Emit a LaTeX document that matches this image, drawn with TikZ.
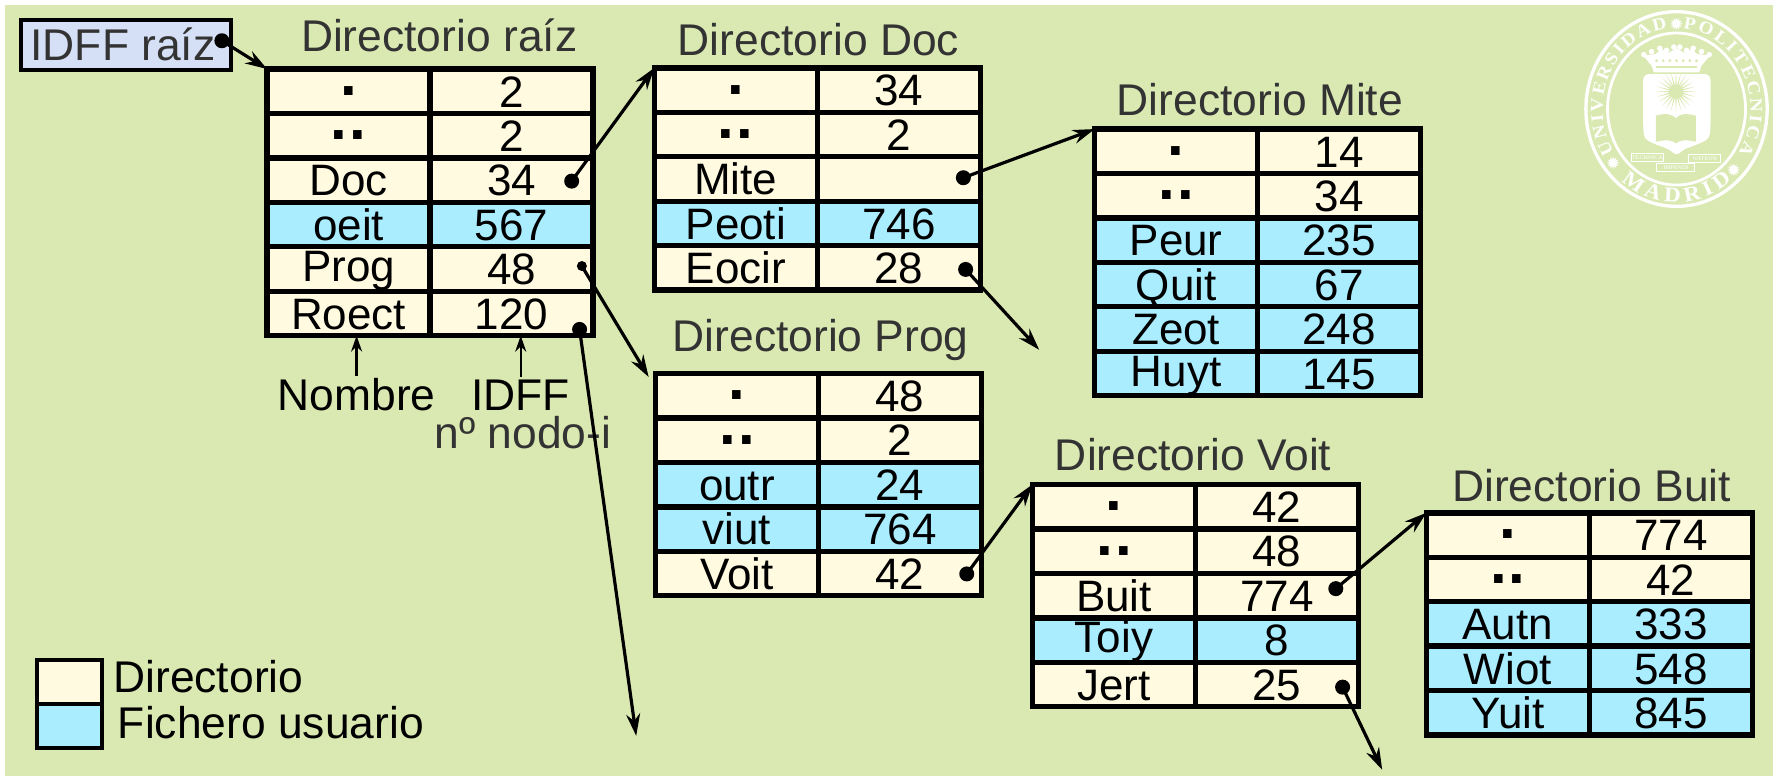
\documentclass[tikz,border=0pt]{standalone}
\usepackage{fontspec}
\usetikzlibrary{arrows.meta,decorations.text,calc}
\setmainfont{Liberation Sans}
\newfontfamily\sealfont[FakeStretch=1.1]{Liberation Serif}
\newfontfamily\starfont{DejaVu Sans}
\definecolor{bggreen}{HTML}{DAE9B2}
\definecolor{cream}{HTML}{FFFAE0}
\definecolor{fileblue}{HTML}{AAEDFF}
\definecolor{rootblue}{HTML}{D5DFF5}
\definecolor{titlegray}{HTML}{333333}
\tikzset{
  cell/.style={draw=black,line width=5.4pt,minimum width=163pt,minimum height=44.43pt,inner sep=0pt,outer sep=0pt,
    font=\fontsize{44}{44}\selectfont,text height=31.5pt,text depth=0pt,anchor=north west},
  dircell/.style={cell,fill=cream},
  filecell/.style={cell,fill=fileblue},
  dirtitle/.style={font=\fontsize{44.4}{44.4}\selectfont,text=titlegray,inner sep=0pt},
  lbl/.style={font=\fontsize{44.4}{44.4}\selectfont,inner sep=0pt},
  legbox/.style={draw=black,line width=4pt,minimum width=65pt,minimum height=44pt,inner sep=0pt},
  ptdot/.style={circle,fill=black,inner sep=0pt,minimum size=15pt},
  smalldot/.style={circle,fill=black,inner sep=0pt,minimum size=10pt},
  link/.style={line width=3.2pt,-{Stealth[length=22pt,width=14pt]}},
  thinlink/.style={line width=2.4pt,-{Stealth[length=16pt,width=11pt]}},
  sealtext/.style 2 args={decorate,decoration={text along path,text align=fit to path,
     text={|\sealfont\bfseries\fontsize{#1}{#1}\selectfont\color{white}|#2}}},
  sealstar/.style={white,inner sep=0pt,font=\starfont\fontsize{17}{17}\selectfont},
  ribbon/.style={draw=white,line width=.9pt,fill=bggreen,inner sep=1pt,text=white,font=\sealfont\fontsize{5.5}{5.5}\selectfont},
}
\newcommand{\onedot}{\raisebox{11.8pt}{\fontsize{60}{60}\selectfont\textbf{.}}}
\newcommand{\twodot}{\raisebox{11.8pt}{\fontsize{60}{60}\selectfont\textbf{.\hspace{2.3pt}.}}}
\newcommand{\up}[1]{\raisebox{3pt}{#1}}
% name, x, y of top left corner (in reference pixels/1.132), rows
\newcommand{\dirtable}[4]{%
  \begin{scope}[shift={(#2,#3)}]
    \foreach \rname/\rleft/\rright/\rkind [count=\ri from 0] in {#4}{
      \node[\rkind] (#1-\ri-n) at (0,{\ri*39.25}) {\rleft};
      \node[\rkind] (#1-\ri-v) at (144,{\ri*39.25}) {\rright};
    }
  \end{scope}}
\begin{document}
\begin{tikzpicture}[x=1.132pt,y=-1.132pt]
\useasboundingbox (0,0) rectangle (1568,685.5);
\fill[white] (0,0) rectangle (1568,685.5);
\fill[bggreen] (4,4.5) rectangle (1566.5,685.5);

% root pointer
\node[draw=black,line width=3.5pt,fill=rootblue,minimum width=210pt,minimum height=50pt,inner sep=0pt,anchor=north west,
      font=\fontsize{44.4}{44.4}\selectfont,text=titlegray] (rootbox) at (17,16) {\hspace{-6pt}IDFF raíz};

% tables
\dirtable{raiz}{236}{61}{a/\onedot/2/dircell,b/\twodot/2/dircell,c/Doc/34/dircell,d/oeit/567/filecell,e/\up{Prog}/48/dircell,f/Roect/120/dircell}
\dirtable{doc}{578}{60}{a/\onedot/34/dircell,b/\twodot/2/dircell,c/Mite//dircell,d/Peoti/746/filecell,e/Eocir/28/dircell}
\dirtable{mite}{967}{114}{a/\onedot/14/dircell,b/\twodot/34/dircell,c/Peur/235/filecell,d/Quit/67/filecell,e/Zeot/248/filecell,f/\up{Huyt}/145/filecell}
\dirtable{prog}{579}{330}{a/\onedot/48/dircell,b/\twodot/2/dircell,c/outr/24/filecell,d/viut/764/filecell,e/Voit/42/dircell}
\dirtable{voit}{912}{428}{a/\onedot/42/dircell,b/\twodot/48/dircell,c/Buit/774/dircell,d/\up{Toiy}/8/filecell,e/Jert/25/dircell}
\dirtable{buit}{1260}{453}{a/\onedot/774/dircell,b/\twodot/42/dircell,c/Autn/333/filecell,d/Wiot/548/filecell,e/Yuit/845/filecell}

% titles
\node[dirtitle] (traiz) at (388,31) {Directorio raíz};
\node[dirtitle] (tdoc) at (723,35) {Directorio Doc};
\node[dirtitle] (tmite) at (1113,88) {Directorio Mite};
\node[dirtitle] (tprog) at (725,300) {Directorio Prog};
\node[dirtitle] (tvoit) at (1054,402) {Directorio Voit};
\node[dirtitle] (tbuit) at (1406,429) {Directorio Buit};

% column labels
\node[lbl] (nombre) at (315,349) {Nombre};
\node[lbl] (idff) at (460,349) {IDFF};
\node[lbl,text=titlegray] (nodoi) at (462,382) {nº nodo-i};
\draw[thinlink] ([yshift=3pt]nombre.north) -- (nombre.north |- raiz-5-n.south);
\draw[thinlink] ([yshift=3pt]idff.north) -- (idff.north |- raiz-5-v.south);

% legend
\node[legbox,fill=cream,anchor=north west] (legd) at (31,581) {};
\node[legbox,fill=fileblue,anchor=north west] (legf) at (31,620) {};
\node[lbl,anchor=west] (legdt) at (100,598) {Directorio};
\node[lbl,anchor=west] (legft) at (104,638) {Fichero usuario};

% dots
\node[ptdot] (d0) at (196,36) {};
\node[ptdot] (d1) at (505,160) {};
\node[smalldot] (d2) at (514,235) {};
\node[ptdot] (d3) at (512,291) {};
\node[ptdot] (d4) at (851,157) {};
\node[ptdot] (d5) at (853,238) {};
\node[ptdot] (d6) at (854,507) {};
\node[ptdot] (d7) at (1180,520) {};
\node[ptdot] (d8) at (1186,607) {};

% free ends
\coordinate (e3) at (562,650);
\coordinate (e2) at (573,333);
\coordinate (e5) at (918,309);
\coordinate (e8) at (1221,680);

\draw[link] (d0.center) -- (raiz-0-n.north west);
\draw[link] (d1.center) -- (doc-0-n.north west);
\draw[link] (d2.center) -- (e2);
\draw[link] (d3.center) -- (e3);
\draw[link] (d4.center) -- (mite-0-n.north west);
\draw[link] (d5.center) -- (e5);
\draw[link] (d6.center) -- (voit-0-n.north west);
\draw[link] (d7.center) -- (buit-0-n.north west);
\draw[link] (d8.center) -- (e8);

% seal
\begin{scope}[shift={(1481,96.3)},x=.3333pt,y=.3333pt]
  \draw[white,line width=3.3pt] (0,0) ellipse [x radius=272,y radius=292];
  \draw[white,line width=2.8pt] (0,0) ellipse [x radius=207,y radius=228];
  \path[sealtext={17.5}{UNIVERSIDAD}] (212:222 and 243) arc [start angle=212,end angle=97,x radius=222,y radius=243];
  \path[sealtext={17.5}{POLITECNICA}] (85:222 and 243) arc [start angle=85,end angle=-33,x radius=222,y radius=243];
  \path[sealtext={21}{MADRID}] (230:258 and 280) arc [start angle=230,end angle=310,x radius=258,y radius=280];
  \node[sealstar] (s1) at (0,255) {✹};
  \node[sealstar] (s2) at (-190,-163) {✹};
  \node[sealstar] (s3) at (172,-183) {✹};
  % shield
  \fill[white,rounded corners=6pt] (-100,105) -- (102,105) -- (102,-60) .. controls (95,-105) and (30,-110) .. (0,-143)
       .. controls (-30,-110) and (-95,-105) .. (-100,-60) -- cycle;
  % crown
  \fill[white] (-68,110) -- (68,110) -- (75,130) -- (100,160) -- (62,165) -- (45,180) -- (25,168) -- (0,182)
       -- (-25,168) -- (-45,180) -- (-62,165) -- (-100,160) -- (-75,130) -- cycle;
  \foreach \cx/\cy in {-98/163,-75/172,-50/182,-30/176,-8/186,10/186,30/176,50/182,75/172,98/163}{
    \fill[white] (\cx,\cy) circle [radius=2.8pt];
  }
  \fill[bggreen] (-62,122) rectangle (62,128);
  \foreach \cx in {-60,-40,...,60}{
    \fill[bggreen] (\cx,145) circle [radius=1.6pt];
  }
  % sun
  \foreach \a in {0,15,...,345}{
    \fill[bggreen] ($(-1.5,52)+(\a-7:18)$) -- ($(-1.5,52)+(\a:60)$) -- ($(-1.5,52)+(\a+7:18)$) -- cycle;
  }
  \fill[bggreen] (-1.5,52) circle [radius=7pt];
  % book
  \fill[bggreen] (-62,-20) .. controls (-35,-12) and (-12,-14) .. (-2,-28) .. controls (8,-14) and (30,-12) .. (58,-20)
     -- (58,-98) .. controls (30,-92) and (10,-92) .. (-2,-103) .. controls (-12,-92) and (-35,-92) .. (-62,-98) -- cycle;
  % ribbons
  \node[ribbon,minimum width=29pt,minimum height=8pt] (rib1) at (-87,-146) {TECHNICA};
  \node[ribbon,minimum width=38pt,minimum height=8pt] (rib2) at (-2,-176) {IMPENDI};
  \node[ribbon,minimum width=32pt,minimum height=8pt] (rib3) at (85,-148) {NATIONI};
\end{scope}
\end{tikzpicture}
\end{document}
